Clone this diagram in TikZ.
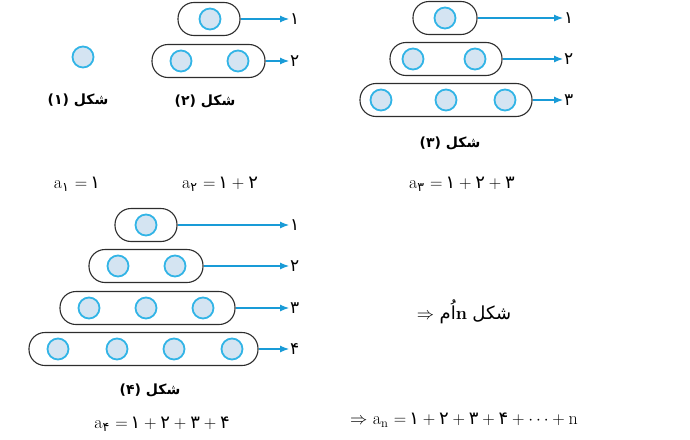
\documentclass[tikz,border=0pt]{standalone}
\usepackage{fontspec}
\usetikzlibrary{arrows.meta}
\TeXXeTstate=1
\newfontfamily\fa[Script=Arabic]{DejaVu Sans}
\definecolor{dotline}{RGB}{50,180,230}
\definecolor{dotfill}{RGB}{212,228,242}
\definecolor{arr}{RGB}{25,155,215}
\definecolor{capline}{RGB}{45,45,45}
\newcommand{\pl}{${}+{}$}
\tikzset{
  capsule/.style={draw=capline, line width=1.1pt, rounded corners=16pt, minimum height=33pt, inner sep=0pt},
  dot/.style={circle, draw=dotline, fill=dotfill, line width=1.8pt, minimum size=21pt, inner sep=0pt},
  arrw/.style={draw=arr, line width=1.1pt, -{Latex[length=9pt,width=7pt]}},
  num/.style={font=\fa\fontsize{17}{19}\selectfont, inner sep=1pt, anchor=west},
  figlabel/.style={font=\fa\bfseries\fontsize{14}{16}\selectfont, inner sep=0pt},
  eq/.style={font=\fontsize{18}{20}\selectfont, inner sep=0pt}
}
\begin{document}
\begin{tikzpicture}[x=1pt,y=-1pt]
\useasboundingbox (0,0) rectangle (690,439);
% Figure 1
\node[dot] (d1) at (83,57) {};
\node[figlabel] (l1) at (78,100) {\beginR شکل (۱)\endR};
% Figure 2
\node[capsule, minimum width=62pt] (c2a) at (209,19) {};
\node[dot] (d2a) at (210,19) {};
\node[capsule, minimum width=113pt] (c2b) at (208.5,61) {};
\node[dot] (d2b1) at (181,61) {};
\node[dot] (d2b2) at (238,61) {};
\node[num] (n2a) at (289,19) {۱};
\node[num] (n2b) at (289,61) {۲};
\draw[arrw] (c2a.east) -- (n2a.west);
\draw[arrw] (c2b.east) -- (n2b.west);
\node[figlabel] (l2) at (205,101) {\beginR شکل (۲)\endR};
% Figure 3
\node[capsule, minimum width=64pt] (c3a) at (445,18) {};
\node[dot] (d3a) at (445,18) {};
\node[capsule, minimum width=112pt] (c3b) at (446,59) {};
\node[dot] (d3b1) at (413,59) {};
\node[dot] (d3b2) at (475,59) {};
\node[capsule, minimum width=172pt] (c3c) at (446,100) {};
\node[dot] (d3c1) at (381,100) {};
\node[dot] (d3c2) at (446,100) {};
\node[dot] (d3c3) at (505,100) {};
\node[num] (n3a) at (563,18) {۱};
\node[num] (n3b) at (563,59) {۲};
\node[num] (n3c) at (563,100) {۳};
\draw[arrw] (c3a.east) -- (n3a.west);
\draw[arrw] (c3b.east) -- (n3b.west);
\draw[arrw] (c3c.east) -- (n3c.west);
\node[figlabel] (l3) at (450,143) {\beginR شکل (۳)\endR};
% Figure 4
\node[capsule, minimum width=62pt] (c4a) at (146,225) {};
\node[dot] (d4a) at (146,225) {};
\node[capsule, minimum width=114pt] (c4b) at (146,266) {};
\node[dot] (d4b1) at (118,266) {};
\node[dot] (d4b2) at (175,266) {};
\node[capsule, minimum width=175pt] (c4c) at (147.5,308) {};
\node[dot] (d4c1) at (89,308) {};
\node[dot] (d4c2) at (146,308) {};
\node[dot] (d4c3) at (203,308) {};
\node[capsule, minimum width=229pt] (c4d) at (143.5,349) {};
\node[dot] (d4d1) at (58,349) {};
\node[dot] (d4d2) at (117,349) {};
\node[dot] (d4d3) at (174,349) {};
\node[dot] (d4d4) at (232,349) {};
\node[num] (n4a) at (289,225) {۱};
\node[num] (n4b) at (289,266) {۲};
\node[num] (n4c) at (289,308) {۳};
\node[num] (n4d) at (289,349) {۴};
\draw[arrw] (c4a.east) -- (n4a.west);
\draw[arrw] (c4b.east) -- (n4b.west);
\draw[arrw] (c4c.east) -- (n4c.west);
\draw[arrw] (c4d.east) -- (n4d.west);
\node[figlabel] (l4) at (150,390) {\beginR شکل (۴)\endR};
% equations
\node[eq] (e1) at (77,184) {a\textsubscript{\fa ۱} $=$\,{\fa ۱}};
\node[eq] (e2) at (220,184) {a\textsubscript{\fa ۲} $=$\,{\fa ۱}\pl{\fa ۲}};
\node[eq] (e3) at (462,184) {a\textsubscript{\fa ۳} $=$\,{\fa ۱}\pl{\fa ۲}\pl{\fa ۳}};
\node[eq] (e4) at (162,424) {a\textsubscript{\fa ۴} $=$\,{\fa ۱}\pl{\fa ۲}\pl{\fa ۳}\pl{\fa ۴}};
\node[eq] (e5) at (464,312) {$\Rightarrow$\ \beginR{\fa شکل} \beginL\textbf{n}\endL{\fa اُم}\endR};
\node[eq] (e6) at (464,420) {$\Rightarrow$\ a\textsubscript{n} $=$\,{\fa ۱}\pl{\fa ۲}\pl{\fa ۳}\pl{\fa ۴}${}+\cdots+{}$n};
\end{tikzpicture}
\end{document}
